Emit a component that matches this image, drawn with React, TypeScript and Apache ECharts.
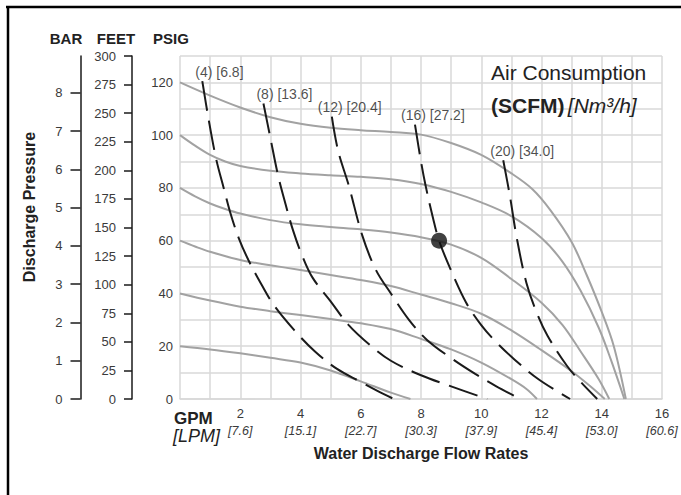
import React, { useEffect, useRef } from 'react';
import * as echarts from 'echarts';

// ---- Data ----
const gpmLabels = [2, 4, 6, 8, 10, 12, 14, 16];
const lpmLabels = ['7.6', '15.1', '22.7', '30.3', '37.9', '45.4', '53.0', '60.6'];
const barTicks = [0, 1, 2, 3, 4, 5, 6, 7, 8];

// Performance curves (GPM, PSIG) at different inlet air pressures
const psig120 = [[0, 120], [1, 115], [2, 110.5], [3, 106.8], [4, 104.3], [5, 102.8], [6, 101.9], [7, 101.2], [8, 100.2], [9, 97], [10, 92.5], [11, 85.5], [11.7, 79.5], [12.3, 71.5], [13, 59.5], [13.5, 47], [14, 33], [14.4, 20], [14.8, 0]];
const psig100 = [[0, 100], [0.5, 96], [1, 92.5], [1.5, 90], [2, 88.3], [3, 86.5], [4, 85.5], [5, 84.8], [6, 84.2], [7, 83.3], [8, 81.5], [9, 78.5], [10, 74.5], [11, 69.3], [12, 61], [12.7, 52], [13.3, 41], [13.9, 27], [14.3, 15], [14.75, 0]];
const psig80 = [[0, 80], [0.5, 76.8], [1, 74.1], [1.5, 72], [2, 70.3], [3, 67.8], [4, 66.2], [5, 65.2], [6, 64.3], [7, 63.1], [8, 61.3], [9, 58.5], [10, 53.5], [11, 45.5], [12, 36.5], [12.7, 28], [13.3, 18], [13.9, 7.5], [14.25, 0]];
const psig60 = [[0, 60], [0.5, 57.8], [1, 55.8], [2, 52.7], [3, 50.7], [4, 48.9], [5, 47], [6, 45.1], [7, 42.8], [8, 39.6], [9, 36.3], [10, 32.3], [11, 26], [12, 18.5], [13, 10.5], [13.6, 5], [14.1, 0]];
const psig40 = [[0, 40], [1, 37.3], [2, 35], [3, 33.3], [4, 31.8], [5, 30.3], [6, 28.7], [7, 26.5], [8, 22.8], [9, 18.8], [10, 13.8], [11, 7.5], [11.5, 3.8], [11.85, 0]];
const psig20 = [[0, 20], [1, 18.8], [2, 17.3], [3, 15.6], [4, 13.8], [5, 10.8], [6, 6.7], [7, 2.4], [7.65, 0]];

// Air consumption lines (SCFM) [Nm3/h]
const scfm4 = [[0.74, 120.5], [0.95, 106], [1.2, 91], [1.45, 80], [1.66, 71], [1.95, 61], [2.27, 52.7], [2.7, 43.5], [3.12, 35.5], [3.8, 26], [4.48, 18], [5.2, 11.5], [5.98, 6.6], [6.6, 2.8], [7.1, 0]];
const scfm8 = [[2.77, 112], [3.0, 99], [3.25, 85], [3.5, 74], [3.75, 64], [4.05, 54.5], [4.4, 46], [5.0, 37], [5.6, 28], [6.3, 20.5], [7, 14.5], [8, 9], [9, 4.8], [10.2, 0]];
const scfm12 = [[5.04, 107], [5.25, 94], [5.6, 81], [6.05, 62], [6.5, 49], [7, 40], [7.6, 30], [8.2, 22.4], [9, 15.5], [9.8, 9.5], [10.5, 4.8], [11.3, 0]];
const scfm16 = [[7.8, 104], [8.0, 90], [8.15, 81], [8.4, 68.5], [8.6, 60], [8.95, 50], [9.5, 36.5], [10, 28], [10.5, 21.5], [11.1, 15], [11.9, 7.5], [12.95, 0]];
const scfm20 = [[10.73, 90.5], [10.95, 77], [11.18, 61], [11.5, 44], [11.85, 32.5], [12.2, 24], [12.85, 12.5], [13.3, 6.5], [13.85, 0]];
const scfmLabels = ['(4) [6.8]', '(8) [13.6]', '(12) [20.4]', '(16) [27.2]', '(20) [34.0]'];

// Operating point
const dotPoint = [[8.6, 60]];

const FONT = '"Liberation Sans", Arial, Helvetica, sans-serif';

export default function App() {
  const ref = useRef<HTMLDivElement>(null);

  useEffect(() => {
    const chart = echarts.init(ref.current as HTMLDivElement, null, { renderer: 'svg' });
    const gray = '#a2a2a2';
    const gridColor = '#d8d8d8';
    const ink = '#1a1a1a';
    const tickText = '#3a3a3a';

    const solid = (data: number[][]) => ({
      type: 'line', data, smooth: 0.35, symbol: 'none', showSymbol: false, silent: true,
      lineStyle: { color: gray, width: 2 }, z: 2,
    });
    const dashed = (data: number[][]) => ({
      type: 'line', data, smooth: 0.35, symbol: 'none', showSymbol: false, silent: true,
      lineStyle: { color: ink, width: 2, type: [30, 10] }, z: 3,
    });

    const scfmSets = [scfm4, scfm8, scfm12, scfm16, scfm20];
    const labelShift = [-7, -7, -14, -14, -13];

    chart.setOption({
      animation: false,
      textStyle: { fontFamily: FONT },
      grid: { left: 180, right: 19, top: 56, bottom: 96 },
      xAxis: {
        type: 'value', min: 0, max: 16, interval: 1,
        axisLine: { show: true, lineStyle: { color: gridColor, width: 1.5 } },
        axisTick: { show: false },
        splitLine: { show: true, lineStyle: { color: gridColor, width: 1.5 } },
        axisLabel: {
          margin: 6, showMaxLabel: true, showMinLabel: true, hideOverlap: false,
          formatter: (v: number) => {
            const i = gpmLabels.indexOf(v);
            return i < 0 ? '' : `{n|${v}}\n{l|[${lpmLabels[i]}]}`;
          },
          rich: {
            n: { fontSize: 13, color: tickText, lineHeight: 16, fontFamily: FONT },
            l: { fontSize: 12.5, fontStyle: 'italic', color: tickText, lineHeight: 19, fontFamily: FONT },
          },
        },
      },
      yAxis: [
        {
          type: 'value', min: 0, max: 130, interval: 10, position: 'left',
          axisLine: { show: false }, axisTick: { show: false },
          splitLine: { show: true, lineStyle: { color: gridColor, width: 1.5 } },
          axisLabel: {
            margin: 7, color: tickText, fontSize: 13, fontFamily: FONT,
            formatter: (v: number) => (v % 20 === 0 ? String(v) : ''),
          },
        },
        {
          type: 'value', min: 0, max: 300, interval: 25, position: 'left', offset: 48,
          axisLine: { show: true, lineStyle: { color: ink, width: 1.5 } },
          axisTick: { show: true, length: 8, lineStyle: { color: ink, width: 1.5 } },
          splitLine: { show: false },
          axisLabel: { margin: 16, color: tickText, fontSize: 13, fontFamily: FONT },
        },
        {
          type: 'value', min: 0, max: 130 / 14.5038, interval: 1, position: 'left', offset: 99.5,
          axisLine: { show: true, lineStyle: { color: ink, width: 1.5 } },
          axisTick: { show: true, length: 10, customValues: barTicks, lineStyle: { color: ink, width: 1.5 } },
          splitLine: { show: false },
          axisLabel: {
            margin: 18, color: tickText, fontSize: 13, fontFamily: FONT, customValues: barTicks,
            formatter: (v: number) => (Number.isInteger(v) ? String(v) : ''),
          },
        },
      ],
      series: [
        solid(psig120), solid(psig100), solid(psig80), solid(psig60), solid(psig40), solid(psig20),
        ...scfmSets.map(dashed),
        {
          type: 'scatter', silent: true, symbolSize: 1, z: 4,
          itemStyle: { color: 'rgba(0,0,0,0)' },
          data: scfmSets.map((s, i) => ({
            value: s[0],
            label: {
              show: true, position: 'top', distance: 2, align: 'left', offset: [labelShift[i], 0],
              formatter: scfmLabels[i], fontSize: 14, color: '#1e1e1e', fontFamily: FONT,
            },
          })),
        },
        {
          type: 'scatter', silent: true, symbol: 'circle', symbolSize: 16, z: 5,
          itemStyle: { color: '#111' }, data: dotPoint,
        },
      ],
      graphic: [
        { type: 'line', z: 100, shape: { x1: 6, y1: 7, x2: 681, y2: 7 }, style: { stroke: '#000', lineWidth: 2.5 } },
        { type: 'line', z: 100, shape: { x1: 8, y1: 6, x2: 8, y2: 495 }, style: { stroke: '#000', lineWidth: 2.5 } },
        { type: 'text', z: 100, x: 66, y: 38, style: { text: 'BAR', font: `bold 15px ${FONT}`, fill: '#222', align: 'center', verticalAlign: 'middle' } },
        { type: 'text', z: 100, x: 116, y: 38, style: { text: 'FEET', font: `bold 15px ${FONT}`, fill: '#222', align: 'center', verticalAlign: 'middle' } },
        { type: 'text', z: 100, x: 171, y: 38, style: { text: 'PSIG', font: `bold 15px ${FONT}`, fill: '#222', align: 'center', verticalAlign: 'middle' } },
        { type: 'text', z: 100, x: 29, y: 207, rotation: Math.PI / 2, style: { text: 'Discharge Pressure', font: `bold 16px ${FONT}`, fill: '#222', align: 'center', verticalAlign: 'middle' } },
        { type: 'text', z: 100, x: 174, y: 418, style: { text: 'GPM', font: `bold 17px ${FONT}`, fill: '#222', align: 'left', verticalAlign: 'middle' } },
        { type: 'text', z: 100, x: 173, y: 436, style: { text: '[LPM]', font: `italic 18px ${FONT}`, fill: '#222', align: 'left', verticalAlign: 'middle' } },
        { type: 'text', z: 100, x: 421, y: 453, style: { text: 'Water Discharge Flow Rates', font: `bold 16px ${FONT}`, fill: '#222', align: 'center', verticalAlign: 'middle' } },
        { type: 'text', z: 100, x: 491, y: 72, style: { text: 'Air Consumption', font: `21px ${FONT}`, fill: '#222', align: 'left', verticalAlign: 'middle' } },
        {
          type: 'text', z: 100, x: 491, y: 105,
          style: {
            text: '{b|(SCFM)} {i|[Nm³/h]}', align: 'left', verticalAlign: 'middle',
            rich: {
              b: { font: `bold 21px ${FONT}`, fill: '#222' },
              i: { font: `italic 21px ${FONT}`, fill: '#222' },
            },
          },
        },
      ],
    });

    return () => chart.dispose();
  }, []);

  return <div ref={ref} style={{ position: 'fixed', left: 0, top: 0, width: 681, height: 495, background: '#fff' }} />;
}
